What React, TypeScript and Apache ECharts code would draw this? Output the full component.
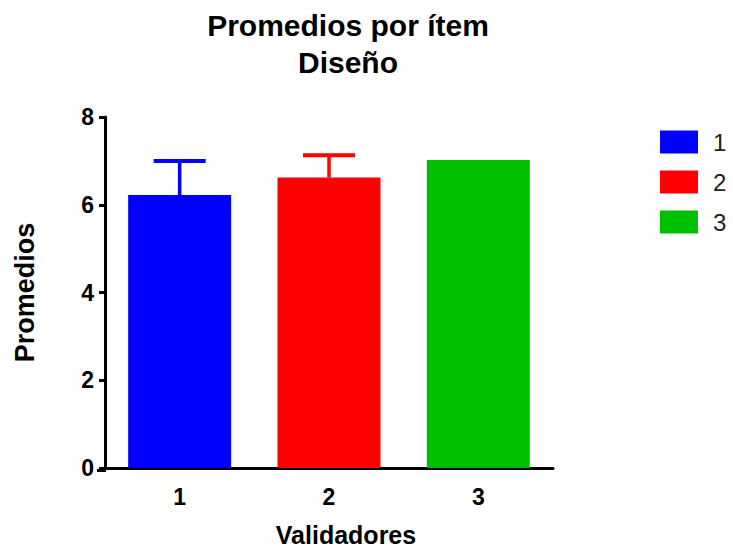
import React, { useEffect, useRef } from "react";
import * as echarts from "echarts";

const categories = ["1", "2", "3"];
const seriesNames = ["1", "2", "3"];
const means = [6.22, 6.62, 7.02];
const errorTops = [7.0, 7.13, null];
const colors = ["#0000ff", "#ff0000", "#00c000"];
const yTicks = [0, 2, 4, 6, 8];

export default function App() {
  const ref = useRef<HTMLDivElement>(null);
  useEffect(() => {
    if (!ref.current) return;
    const chart = echarts.init(ref.current, undefined, { renderer: "svg" });
    const font = "'Liberation Sans', Arial, sans-serif";
    const barSeries = seriesNames.map((name, i) => ({
      name,
      type: "bar",
      barWidth: 103,
      barGap: "-100%",
      itemStyle: { color: colors[i] },
      data: categories.map((_, j) => (j === i ? means[i] : "-")),
      z: 2,
    }));
    const errData = means
      .map((m, i) => (errorTops[i] == null ? null : [i, m, errorTops[i] as number]))
      .filter((d) => d !== null);
    const option: any = {
      animation: false,
      title: {
        text: "Promedios por ítem\nDiseño",
        left: 348,
        top: 7,
        padding: 0,
        textAlign: "center",
        textStyle: {
          fontFamily: font,
          fontWeight: "bold",
          fontSize: 30,
          lineHeight: 37,
          color: "#000",
        },
      },
      legend: {
        data: seriesNames,
        orient: "vertical",
        left: 660,
        top: 130,
        padding: 0,
        itemWidth: 38,
        itemHeight: 23,
        itemGap: 16,
        icon: "rect",
        textStyle: { fontFamily: font, fontSize: 24, color: "#222", padding: [0, 0, 0, 10] },
      },
      grid: { left: 105, right: 180, top: 117, bottom: 81.5 },
      xAxis: {
        type: "category",
        data: categories,
        name: "Validadores",
        nameLocation: "middle",
        nameGap: 54,
        nameTextStyle: {
          fontFamily: font,
          fontWeight: "bold",
          fontSize: 25,
          color: "#000",
          padding: [0, 0, 0, 34],
        },
        axisLine: { lineStyle: { color: "#000", width: 3 } },
        axisTick: { alignWithLabel: true, length: 9, lineStyle: { color: "#000", width: 3 } },
        axisLabel: { fontFamily: font, fontWeight: "bold", fontSize: 23, color: "#000", margin: 17 },
      },
      yAxis: {
        type: "value",
        min: 0,
        max: 8,
        interval: 2,
        name: "Promedios",
        nameLocation: "middle",
        nameGap: 67,
        nameRotate: 90,
        nameTextStyle: { fontFamily: font, fontWeight: "bold", fontSize: 27, color: "#000" },
        axisLine: { show: true, lineStyle: { color: "#000", width: 3 } },
        axisTick: { show: true, length: 6, lineStyle: { color: "#000", width: 3 } },
        axisLabel: {
          fontFamily: font,
          fontWeight: "bold",
          fontSize: 23,
          color: "#000",
          margin: 11,
          formatter: (v: number) => (yTicks.includes(v) ? String(v) : ""),
        },
        splitLine: { show: false },
      },
      graphic: [
        {
          type: "line",
          shape: { x1: 97, y1: 470.5, x2: 106, y2: 470.5 },
          style: { stroke: "#000", lineWidth: 3 },
        },
      ],
      series: [
        ...barSeries,
        {
          type: "custom",
          name: "err",
          data: errData,
          z: 3,
          renderItem: (params: any, api: any) => {
            const idx = api.value(0);
            const lo = api.coord([idx, api.value(1)]);
            const hi = api.coord([idx, api.value(2)]);
            const half = 26;
            const color = colors[idx];
            return {
              type: "group",
              children: [
                {
                  type: "line",
                  shape: { x1: lo[0], y1: lo[1], x2: hi[0], y2: hi[1] },
                  style: { stroke: color, lineWidth: 3.5 },
                },
                {
                  type: "line",
                  shape: { x1: hi[0] - half, y1: hi[1], x2: hi[0] + half, y2: hi[1] },
                  style: { stroke: color, lineWidth: 4 },
                },
              ],
            };
          },
        },
      ],
    };
    chart.setOption(option);
    return () => chart.dispose();
  }, []);
  return (
    <div
      ref={ref}
      style={{ position: "fixed", left: 0, top: 0, width: 733, height: 552, background: "#fff" }}
    />
  );
}
